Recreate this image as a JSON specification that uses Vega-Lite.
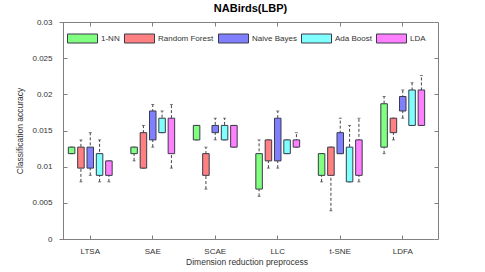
{
  "$schema": "https://vega.github.io/schema/vega-lite/v6.json",
  "autosize": {"type": "none"},
  "width": 375,
  "height": 217,
  "padding": {"left": 63, "top": 22, "right": 47, "bottom": 33},
  "background": "white",
  "title": {"text": "NABirds(LBP)", "fontSize": 11, "fontWeight": "bold", "font": "Liberation Sans", "color": "#000000", "offset": 4, "anchor": "middle"},
  "config": {
    "font": "Liberation Sans",
    "view": {"stroke": null},
    "axis": {"domainColor": "#808080", "tickColor": "#808080", "labelColor": "#333333", "titleColor": "#333333", "labelFontSize": 8, "titleFontSize": 8.5, "titleFontWeight": "normal", "grid": false, "labelFont": "Liberation Sans", "titleFont": "Liberation Sans"}
  },
  "data": {"values": [
    {"method": "LTSA", "clf": "1-NN", "lo": 0.0118, "q1": 0.0118, "q3": 0.0127, "hi": 0.0127},
    {"method": "LTSA", "clf": "Random Forest", "lo": 0.0079, "q1": 0.0098, "q3": 0.0127, "hi": 0.0137},
    {"method": "LTSA", "clf": "Naive Bayes", "lo": 0.0088, "q1": 0.0098, "q3": 0.0127, "hi": 0.0147},
    {"method": "LTSA", "clf": "Ada Boost", "lo": 0.0079, "q1": 0.0088, "q3": 0.0118, "hi": 0.0137},
    {"method": "LTSA", "clf": "LDA", "lo": 0.0079, "q1": 0.0088, "q3": 0.0108, "hi": 0.0108},
    {"method": "SAE", "clf": "1-NN", "lo": 0.0108, "q1": 0.0118, "q3": 0.0127, "hi": 0.0127},
    {"method": "SAE", "clf": "Random Forest", "lo": 0.0098, "q1": 0.0098, "q3": 0.0147, "hi": 0.0157},
    {"method": "SAE", "clf": "Naive Bayes", "lo": 0.0127, "q1": 0.0137, "q3": 0.0177, "hi": 0.0186},
    {"method": "SAE", "clf": "Ada Boost", "lo": 0.0147, "q1": 0.0147, "q3": 0.0167, "hi": 0.0177},
    {"method": "SAE", "clf": "LDA", "lo": 0.0098, "q1": 0.0118, "q3": 0.0167, "hi": 0.0186},
    {"method": "SCAE", "clf": "1-NN", "lo": 0.0137, "q1": 0.0137, "q3": 0.0157, "hi": 0.0157},
    {"method": "SCAE", "clf": "Random Forest", "lo": 0.0069, "q1": 0.0088, "q3": 0.0118, "hi": 0.0127},
    {"method": "SCAE", "clf": "Naive Bayes", "lo": 0.0137, "q1": 0.0147, "q3": 0.0157, "hi": 0.0167},
    {"method": "SCAE", "clf": "Ada Boost", "lo": 0.0137, "q1": 0.0137, "q3": 0.0157, "hi": 0.0167},
    {"method": "SCAE", "clf": "LDA", "lo": 0.0127, "q1": 0.0127, "q3": 0.0157, "hi": 0.0157},
    {"method": "LLC", "clf": "1-NN", "lo": 0.0059, "q1": 0.0069, "q3": 0.0118, "hi": 0.0137},
    {"method": "LLC", "clf": "Random Forest", "lo": 0.0098, "q1": 0.0108, "q3": 0.0137, "hi": 0.0137},
    {"method": "LLC", "clf": "Naive Bayes", "lo": 0.0098, "q1": 0.0108, "q3": 0.0167, "hi": 0.0177},
    {"method": "LLC", "clf": "Ada Boost", "lo": 0.0118, "q1": 0.0118, "q3": 0.0137, "hi": 0.0137},
    {"method": "LLC", "clf": "LDA", "lo": 0.0127, "q1": 0.0127, "q3": 0.0137, "hi": 0.0147},
    {"method": "t-SNE", "clf": "1-NN", "lo": 0.0079, "q1": 0.0088, "q3": 0.0118, "hi": 0.0118},
    {"method": "t-SNE", "clf": "Random Forest", "lo": 0.0039, "q1": 0.0088, "q3": 0.0127, "hi": 0.0127},
    {"method": "t-SNE", "clf": "Naive Bayes", "lo": 0.0118, "q1": 0.0118, "q3": 0.0147, "hi": 0.0167},
    {"method": "t-SNE", "clf": "Ada Boost", "lo": 0.0079, "q1": 0.0079, "q3": 0.0127, "hi": 0.0157},
    {"method": "t-SNE", "clf": "LDA", "lo": 0.0079, "q1": 0.0088, "q3": 0.0137, "hi": 0.0167},
    {"method": "LDFA", "clf": "1-NN", "lo": 0.0118, "q1": 0.0127, "q3": 0.0187, "hi": 0.0197},
    {"method": "LDFA", "clf": "Random Forest", "lo": 0.0137, "q1": 0.0147, "q3": 0.0167, "hi": 0.0167},
    {"method": "LDFA", "clf": "Naive Bayes", "lo": 0.0167, "q1": 0.0177, "q3": 0.0197, "hi": 0.0206},
    {"method": "LDFA", "clf": "Ada Boost", "lo": 0.0157, "q1": 0.0157, "q3": 0.0206, "hi": 0.0216},
    {"method": "LDFA", "clf": "LDA", "lo": 0.0157, "q1": 0.0157, "q3": 0.0206, "hi": 0.0226}
  ]},
  "encoding": {
    "x": {"field": "method", "type": "nominal", "axis": null, "scale": {"domain": ["LTSA", "SAE", "SCAE", "LLC", "t-SNE", "LDFA"], "range": [-4, 371], "paddingInner": 0, "paddingOuter": 0}},
    "xOffset": {"field": "clf", "type": "nominal", "scale": {"domain": ["1-NN", "Random Forest", "Naive Bayes", "Ada Boost", "LDA"], "paddingInner": 0.3, "paddingOuter": 1.13}}
  },
  "layer": [
    {
      "mark": {"type": "rule", "color": "#444444", "strokeWidth": 1, "strokeDash": [3, 2]},
      "encoding": {
        "x": {"field": "method", "type": "nominal", "axis": {"orient": "bottom", "title": "Dimension reduction preprocess", "labelAngle": 0, "tickSize": -4, "labelPadding": 12, "titlePadding": 2, "domainWidth": 1}},
        "y": {"field": "lo", "type": "quantitative", "scale": {"domain": [0, 0.03], "nice": false}, "axis": {"orient": "left", "title": "Classification accuracy", "values": [0, 0.005, 0.01, 0.015, 0.02, 0.025, 0.03], "format": "~f", "tickSize": -4, "labelPadding": 15, "titlePadding": 7}},
        "y2": {"field": "hi"}
      }
    },
    {
      "mark": {"type": "tick", "color": "#444444", "size": 3, "thickness": 1},
      "encoding": {
        "x": {"field": "method", "type": "nominal", "axis": {"orient": "top", "title": null, "labels": false, "tickSize": -4}},
        "y": {"field": "lo", "type": "quantitative", "axis": {"orient": "right", "title": null, "labels": false, "values": [0, 0.005, 0.01, 0.015, 0.02, 0.025, 0.03], "tickSize": -4}}
      }
    },
    {
      "mark": {"type": "tick", "color": "#444444", "size": 3, "thickness": 1},
      "encoding": {
        "y": {"field": "hi", "type": "quantitative", "axis": null}
      }
    },
    {
      "mark": {"type": "bar", "stroke": "#3a3a4a", "strokeWidth": 1, "opacity": 1},
      "encoding": {
        "y": {"field": "q1", "type": "quantitative", "axis": null},
        "y2": {"field": "q3"},
        "fill": {"field": "clf", "type": "nominal", "scale": {"domain": ["1-NN", "Random Forest", "Naive Bayes", "Ada Boost", "LDA"], "range": ["#80ff80", "#ff8080", "#8080ff", "#80ffff", "#ff80ff"]},
          "legend": {"title": null, "orient": "none", "direction": "horizontal", "legendX": 4, "legendY": 1, "padding": 0, "symbolType": "M-1,-0.3H1V0.3H-1Z", "symbolSize": 900, "symbolStrokeColor": "#3a3a4a", "symbolStrokeWidth": 1, "symbolOpacity": 1, "labelFontSize": 8, "labelColor": "#333333", "labelOffset": 3, "columnPadding": 2, "labelFont": "Liberation Sans"}}
      }
    }
  ]
}
